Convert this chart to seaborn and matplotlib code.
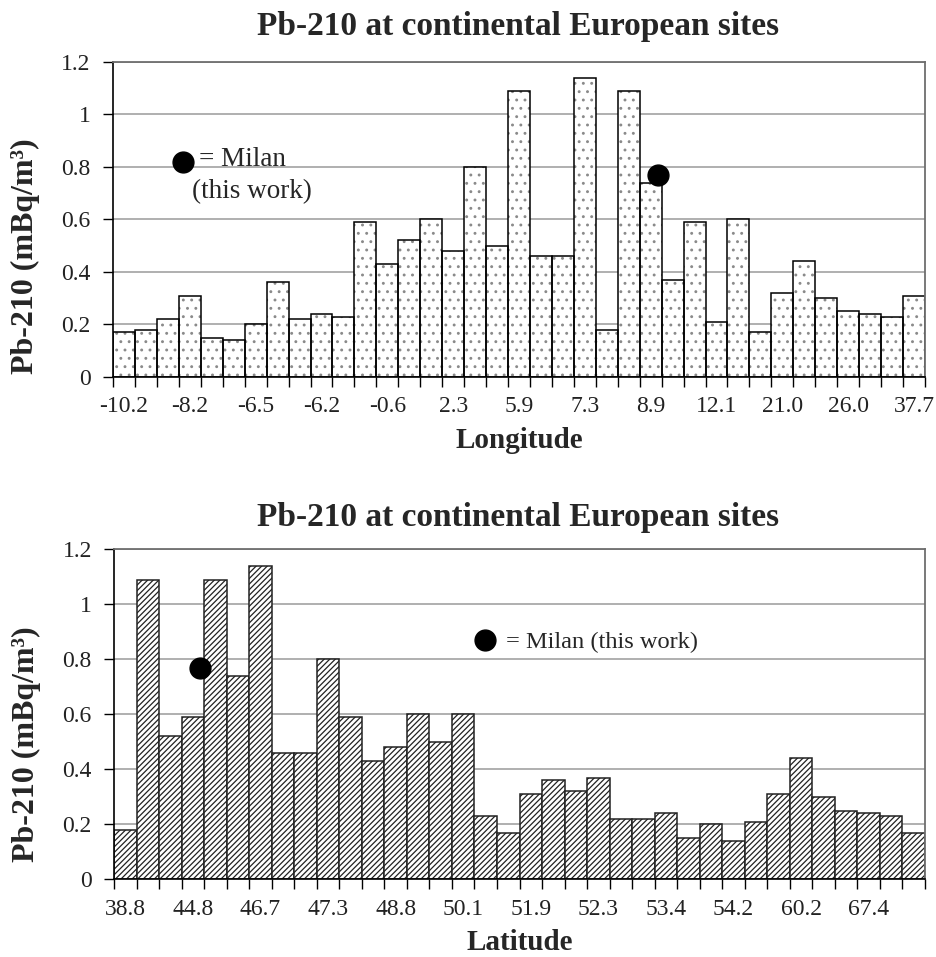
import matplotlib.pyplot as plt
import numpy as np
import seaborn as sns

# Pb-210 per site, sorted by longitude (top) and by latitude (bottom)
lon_values = [0.17, 0.18, 0.22, 0.31, 0.15, 0.14, 0.20, 0.36, 0.22, 0.24,
              0.23, 0.59, 0.43, 0.52, 0.60, 0.48, 0.80, 0.50, 1.09, 0.46,
              0.46, 1.14, 0.18, 1.09, 0.74, 0.37, 0.59, 0.21, 0.60, 0.17,
              0.32, 0.44, 0.30, 0.25, 0.24, 0.23, 0.31]
lon_ticklabels = ["-10.2", "-8.2", "-6.5", "-6.2", "-0.6", "2.3", "5.9",
                  "7.3", "8.9", "12.1", "21.0", "26.0", "37.7"]

lat_values = [0.18, 1.09, 0.52, 0.59, 1.09, 0.74, 1.14, 0.46, 0.46, 0.80,
              0.59, 0.43, 0.48, 0.60, 0.50, 0.60, 0.23, 0.17, 0.31, 0.36,
              0.32, 0.37, 0.22, 0.22, 0.24, 0.15, 0.20, 0.14, 0.21, 0.31,
              0.44, 0.30, 0.25, 0.24, 0.23, 0.17]
lat_ticklabels = ["38.8", "44.8", "46.7", "47.3", "48.8", "50.1", "51.9",
                  "52.3", "53.4", "54.2", "60.2", "67.4"]

milan_value = 0.77
milan_lon_bar = 24
milan_lat_bar = 3

yticks = [0, 0.2, 0.4, 0.6, 0.8, 1.0, 1.2]
ytick_labels = ["0", "0.2", "0.4", "0.6", "0.8", "1", "1.2"]

sns.set_style("ticks")
plt.rcParams["font.family"] = ["Liberation Serif", "DejaVu Serif"]
plt.rcParams["hatch.linewidth"] = 0.9

fig = plt.figure(figsize=(9.37, 9.57), dpi=100)
ax1 = fig.add_axes([0.1206, 0.6061, 0.8666, 0.3292])
ax2 = fig.add_axes([0.1217, 0.0812, 0.8655, 0.3448])


def style_axis(ax, n, ticklabels, xlabel, xlabel_y, ylabel_y):
    ax.set_xlim(-0.5, n - 0.5)
    ax.set_ylim(0, 1.2)
    ax.set_yticks(yticks)
    ax.set_yticklabels(ytick_labels, fontsize=17, color="#222222")
    ax.yaxis.grid(True, color="#9a9a9a", linewidth=1.1)
    ax.set_axisbelow(True)

    ax.set_xticks(np.arange(0, n, 3)[:len(ticklabels)])
    ax.set_xticklabels(ticklabels, fontsize=17, color="#222222")
    ax.set_xticks(np.arange(-0.5, n, 1), minor=True)
    ax.tick_params(axis="x", which="major", length=0, pad=14)
    ax.tick_params(axis="x", which="minor", length=7, width=1,
                   color="black", bottom=True)
    ax.tick_params(axis="y", length=7, width=1, color="black",
                   pad=9, left=True)

    ax.set_xlabel(xlabel, fontsize=21, fontweight="bold")
    ax.xaxis.set_label_coords(0.5, xlabel_y)
    ax.set_ylabel("Pb-210 (mBq/m³)", fontsize=23, fontweight="bold")
    ax.yaxis.set_label_coords(-0.09, ylabel_y)

    for side in ["top", "right"]:
        ax.spines[side].set_visible(True)
        ax.spines[side].set_color("#6e6e6e")
        ax.spines[side].set_linewidth(1.3)
    for side in ["left", "bottom"]:
        ax.spines[side].set_color("black")
        ax.spines[side].set_linewidth(1.2)


# top: longitude, dotted bars
x_lon = np.arange(len(lon_values))
sns.barplot(x=x_lon, y=lon_values, ax=ax1, width=1.0, color="white",
            edgecolor="#8a8a8a", linewidth=0, hatch="..", saturation=1)
sns.barplot(x=x_lon, y=lon_values, ax=ax1, width=1.0, fill=False,
            edgecolor="black", linewidth=1.1)
ax1.plot(milan_lon_bar + 0.34, milan_value, "o", color="black",
         markersize=15, zorder=5)
ax1.plot(2.69, 0.819, "o", color="black", markersize=15, zorder=5)
ax1.text(3.42, 0.804, "= Milan", fontsize=19.5)
ax1.text(3.1, 0.682, "(this work)", fontsize=19.5)
style_axis(ax1, len(lon_values), lon_ticklabels, "Longitude", -0.16, 0.384)

# bottom: latitude, hatched bars
x_lat = np.arange(len(lat_values))
sns.barplot(x=x_lat, y=lat_values, ax=ax2, width=1.0, color="white",
            edgecolor="#222222", linewidth=1.1, hatch="//////", saturation=1)
ax2.plot(milan_lat_bar + 0.32, milan_value, "o", color="black",
         markersize=15, zorder=5)
ax2.plot(15.97, 0.870, "o", color="black", markersize=15, zorder=5)
ax2.text(16.9, 0.841, "= Milan (this work)", fontsize=17.6)
style_axis(ax2, len(lat_values), lat_ticklabels, "Latitude", -0.152, 0.41)

fig.text(0.553, 1 - 35 / 957, "Pb-210 at continental European sites",
         ha="center", va="baseline", fontsize=24, fontweight="bold")
fig.text(0.553, 1 - 526 / 957, "Pb-210 at continental European sites",
         ha="center", va="baseline", fontsize=24, fontweight="bold")

fig.savefig("out.png", dpi=100)
